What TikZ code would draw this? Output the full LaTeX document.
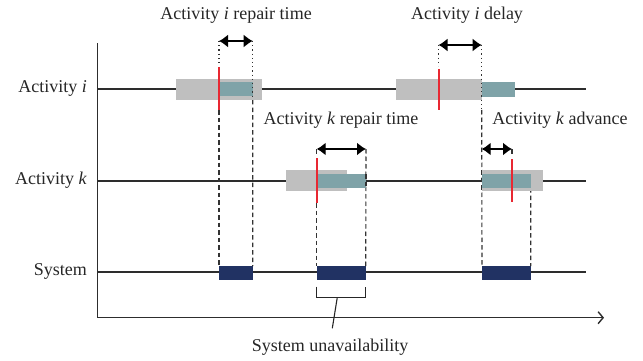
\documentclass[tikz,border=0pt]{standalone}
\usepackage{fontspec}
\setmainfont{Liberation Serif}
\usetikzlibrary{arrows.meta}
\definecolor{boxgray}{RGB}{191,191,191}
\definecolor{tealbox}{RGB}{127,163,168}
\definecolor{navybox}{RGB}{33,50,99}
\definecolor{redmark}{RGB}{232,40,50}
\definecolor{axisc}{RGB}{45,45,45}
\begin{document}
\begin{tikzpicture}[x=1pt,y=-1pt,
  lbl/.style={font=\fontsize{18}{20}\selectfont, inner sep=0pt, text=black!85},
  rect/.style 2 args={minimum width=#1, minimum height=#2, inner sep=0pt, outer sep=0pt, anchor=north west, draw=none},
  graybox/.style={rect={#1}{21}, fill=boxgray},
  tealrect/.style={rect={#1}{14}, fill=tealbox},
  navyrect/.style={rect={#1}{13.5}, fill=navybox},
  tline/.style={draw=axisc, line width=1.2pt},
  dashline/.style={draw=black!80, line width=1.1pt, dash pattern=on 4.5pt off 3pt},
  dotline/.style={draw=black!80, line width=1.1pt, dash pattern=on 1.2pt off 3pt},
  redline/.style={draw=redmark, line width=1.7pt},
  dimarrow/.style={draw=black, line width=1.4pt, {Latex[length=9pt,width=13pt]}-{Latex[length=9pt,width=13pt]}}
]
\useasboundingbox (0,0) rectangle (643,361);

% axes
\coordinate (ytop) at (97.3,43.3);
\coordinate (xend) at (604,317.7);
\draw[axisc, line width=1.4pt, -{Straight Barb[length=5pt,width=12pt]}] (ytop) |- (xend);

% row labels
\node[lbl, anchor=east] (li) at (87,88) {Activity \textit{i}};
\node[lbl, anchor=east] (lk) at (87,180) {Activity \textit{k}};
\node[lbl, anchor=east] (ls) at (87,271) {System};

% timelines
\coordinate (ri0) at (97.3,89);
\coordinate (ri1) at (586,89);
\coordinate (rk0) at (97.3,181);
\coordinate (rk1) at (586,181);
\coordinate (rs0) at (97.3,272);
\coordinate (rs1) at (586,272);
\draw[tline] (ri0) -- (ri1);
\draw[tline] (rk0) -- (rk1);
\draw[tline] (rs0) -- (rs1);

% system boxes (positions)
\node[navyrect=33.7] (s1) at (219,266) {};
\node[navyrect=49] (s2) at (316.7,266) {};
\node[navyrect=48.7] (s3) at (482,266) {};

% red marks ends
\coordinate (ri1t) at (219,67);  \coordinate (ri1b) at (219,110);
\coordinate (ri2t) at (439,69);  \coordinate (ri2b) at (439,110);
\coordinate (rk1t) at (316.7,158); \coordinate (rk1b) at (316.7,203);
\coordinate (rk2t) at (512,159); \coordinate (rk2b) at (512,202);

% dimension arrow ends
\coordinate (a1l) at (219,41);  \coordinate (a1r) at (252.7,41);
\coordinate (a2l) at (438.5,45); \coordinate (a2r) at (481.7,45);
\coordinate (a3l) at (316.7,149); \coordinate (a3r) at (366,149);
\coordinate (a4l) at (481.7,149); \coordinate (a4r) at (512,149);
\coordinate (d2b) at (481.7,110);

% dashed drop lines (behind boxes)
\draw[dashline] (ri1b) -- (s1.north west);
\draw[dashline] (252.7,100) -- (s1.north east);
\draw[dashline] (rk1b) -- (s2.north west);
\draw[dashline] (a3r) -- (s2.north east);
\draw[dashline] (d2b) -- (s3.north west);
\draw[dashline] (530.7,188) -- (s3.north east);

% activity boxes
\node[graybox=86] (gi1) at (176,79) {};
\node[tealrect=33.4] (ti1) at (219.3,82) {};
\node[graybox=85.7] (gi2) at (396,79) {};
\node[tealrect=33.3, minimum height=15] (ti2) at (481.7,82) {};
\node[graybox=60.7, minimum height=20.7] (gk1) at (286,170) {};
\node[tealrect=49.3, minimum height=13.7] (tk1) at (316.7,174) {};
\node[graybox=61, minimum height=20.7] (gk2) at (481.7,170) {};
\node[tealrect=49, minimum height=13.7] (tk2) at (481.7,174) {};
\draw[dashline] (gk2.north west) -- (gk2.south west);
\draw[dashline] (tk1.north east) -- (tk1.south east);

% dotted guide lines
\draw[dotline] (a1l) -- (219,65);
\draw[dotline] (a1r) -- (ti1.south east);
\draw[dotline] (a2l) -- (438.5,66);
\draw[dotline] (a2r) -- (d2b);

% red marks
\draw[redline] (ri1t) -- (ri1b);
\draw[redline] (ri2t) -- (ri2b);
\draw[redline] (rk1t) -- (rk1b);
\draw[redline] (rk2t) -- (rk2b);

% dimension arrows
\draw[dimarrow] (a1l) -- (a1r);
\draw[dimarrow] (a2l) -- (a2r);
\draw[dimarrow] (a3l) -- (a3r);
\draw[dimarrow] (a4l) -- (a4r);
\draw[black!80, line width=1.1pt] (a3l) -- ++(0,5);
\draw[black!80, line width=1.1pt] (a4r) -- ++(0,5);

% top labels
\node[lbl] (t1) at (236,15) {Activity \textit{i} repair time};
\node[lbl] (t2) at (467,15) {Activity \textit{i} delay};
\node[lbl] (t3) at (341,120) {Activity \textit{k} repair time};
\node[lbl] (t4) at (560,120) {Activity \textit{k} advance};

% unavailability bracket
\coordinate (bl) at (316.7,286.7);
\coordinate (br) at (365.7,286.7);
\coordinate (bm) at (337.3,297.3);
\draw[black!85, line width=1.2pt] (bl) -- (316.7,297.3) -- (365.7,297.3) -- (br);
\node[lbl] (su) at (330,347) {System unavailability};
\coordinate (sut) at (332.3,328.3);
\draw[black!85, line width=1.1pt] (bm) -- (sut);
\end{tikzpicture}
\end{document}
